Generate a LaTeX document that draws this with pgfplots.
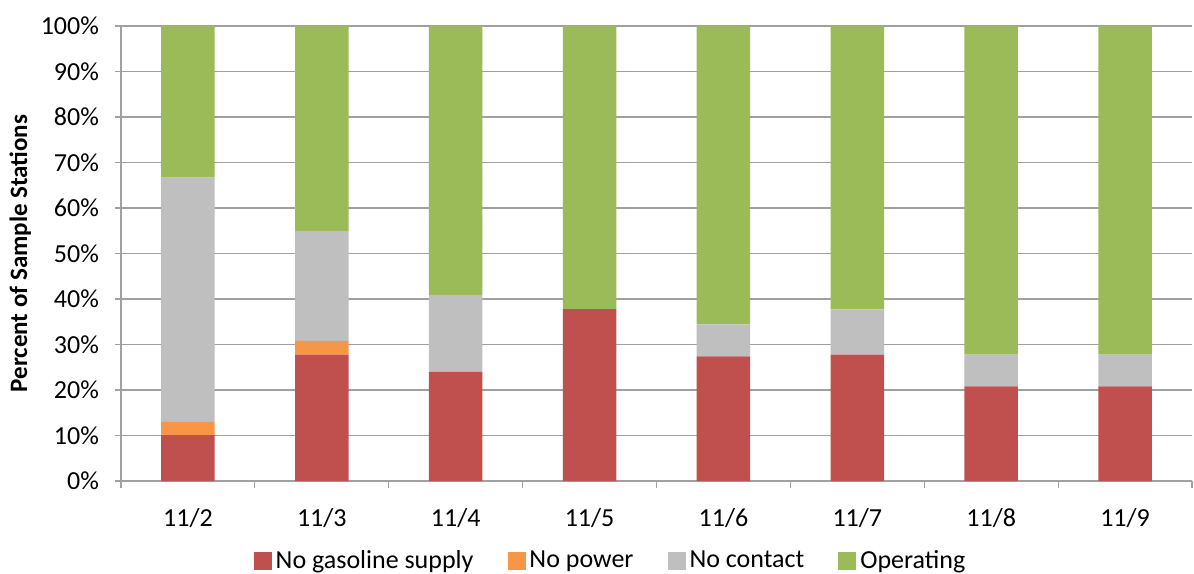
\documentclass[border=0pt]{standalone}
\usepackage{fontspec}
\setmainfont{Carlito}
\usepackage{pgfplots}
\pgfplotsset{compat=1.18}
\definecolor{cred}{HTML}{C0504D}
\definecolor{corange}{HTML}{F79646}
\definecolor{cgray}{HTML}{BFBFBF}
\definecolor{cgreen}{HTML}{9BBB59}
\definecolor{cgrid}{HTML}{A0A0A0}
\begin{document}
\begin{tikzpicture}
\begin{axis}[
  scale only axis,
  width=535.5pt, height=227.5pt,
  ybar stacked, bar width=0.4,
  xmin=-0.5, xmax=7.5, ymin=0, ymax=100,
  xtick={0,...,7},
  xticklabels={11/2,11/3,11/4,11/5,11/6,11/7,11/8,11/9},
  minor xtick={-0.5,0.5,...,7.5},
  ytick={0,10,...,100},
  yticklabel={\pgfmathprintnumber{\tick}\%},
  /pgf/number format/assume math mode=true,
  axis lines*=left,
  axis line style={cgrid, line width=0.6pt},
  tick align=outside,
  major tick length=3pt,
  minor tick length=3.5pt,
  every tick/.style={cgrid, line width=0.6pt},
  x tick style={draw=none},
  minor x tick style={draw=cgrid, line width=0.6pt},
  ymajorgrids, grid style={cgrid, line width=0.6pt},
  tick label style={font=\fontsize{13}{15}\selectfont, black},
  xticklabel style={yshift=-7pt},
  yticklabel style={xshift=-4.5pt},
  ylabel={\textbf{Percent of Sample Stations}},
  ylabel style={font=\fontsize{12.5}{15}\selectfont, yshift=-2pt},
  legend style={at={(0.458,-0.175)}, anchor=center, draw=none, legend columns=4,
    font=\fontsize{13}{15}\selectfont, inner sep=0pt,
    /tikz/every even column/.append style={column sep=15pt}},
  legend image code/.code={\fill[#1] (0.5pt,-4.5pt) rectangle (9.5pt,4.5pt);},
  clip=false,
]
\addplot[fill=cred, draw=none] coordinates {(0,10.1) (1,27.8) (2,24.0) (3,37.8) (4,27.4) (5,27.8) (6,20.8) (7,20.8)};
\addplot[fill=corange, draw=none] coordinates {(0,2.9) (1,3.0) (2,0) (3,0) (4,0) (5,0) (6,0) (7,0)};
\addplot[fill=cgray, draw=none] coordinates {(0,53.7) (1,24.2) (2,16.9) (3,0) (4,7.0) (5,9.9) (6,7.0) (7,7.0)};
\addplot[fill=cgreen, draw=none] coordinates {(0,33.3) (1,45.0) (2,59.1) (3,62.2) (4,65.6) (5,62.3) (6,72.2) (7,72.2)};
\legend{No gasoline supply, No power, No contact, Operating}
\coordinate (bl) at (rel axis cs:0,0);
\coordinate (tr) at (rel axis cs:1,1);
\end{axis}
\pgfresetboundingbox
\path ([xshift=-60.5pt,yshift=-46pt]bl) rectangle ([xshift=1pt,yshift=13pt]tr);
\end{tikzpicture}
\end{document}
